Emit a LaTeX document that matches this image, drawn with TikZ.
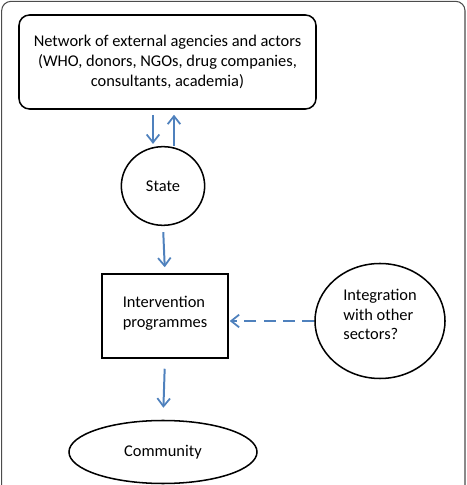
\documentclass[tikz,border=0pt]{standalone}
\usepackage{fontspec}
\setmainfont{Carlito}
\usepackage{xcolor}
\usetikzlibrary{arrows.meta,positioning,shapes.geometric}
\definecolor{flowblue}{RGB}{79,129,189}

\begin{document}
\begin{tikzpicture}[x=1cm, y=1cm,
  box/.style={draw, line width=1.3pt, align=center, font=\fontsize{14}{17}\selectfont,
              inner sep=2pt},
  roundbox/.style={box, rounded corners=9pt},
  oval/.style={box, ellipse, inner sep=0pt},
  arr/.style={-{Straight Barb[length=2.4mm, width=3.8mm, line width=1.5pt]}, line width=1.7pt, flowblue},
  darr/.style={arr, dash pattern=on 3.6mm off 2.2mm}
]
\clip (0,0) rectangle (14.01,14.55);
\draw[black!70, line width=0.9pt, rounded corners=8pt] (0.05,-1) |- (13.95,14.51) -- (13.95,-1);
\node[roundbox, minimum width=8.91cm, minimum height=2.82cm] (net) at (5.025,12.69)
  {Network of external agencies and actors\\(WHO, donors, NGOs, drug companies,\\consultants, academia)};
\node[oval, minimum width=2.5cm, minimum height=2.36cm] (st) at (4.89,8.97) {State};
\node[box, align=left, minimum width=3.78cm, minimum height=2.52cm] (prog) at (4.95,5.07)
  {Intervention\\programmes\\[-0.35cm]};
\node[oval, align=left, minimum width=3.9cm, minimum height=3.45cm] (integ) at (11.4,4.92)
  {Integration\\with other\\sectors?\\[-0.2cm]};
\node[oval, minimum width=5.64cm, minimum height=1.89cm] (comm) at (4.89,0.99) {Community};
\draw[arr, shorten <=0.15cm, shorten >=0.06cm] ([xshift=-0.3cm]st.north |- net.south) -- ([xshift=-0.3cm]st.north);
\draw[arr, shorten >=0.15cm] ([xshift=0.33cm]st.north) -- ([xshift=0.33cm]st.north |- net.south);
\draw[arr, shorten <=0.18cm, shorten >=0.18cm] (st.south) -- (prog.north);
\draw[darr, shorten >=0.03cm] (integ.west) -- (integ.west -| prog.east);
\draw[arr, shorten <=0.3cm, shorten >=0.36cm] (prog.south) -- (comm.north);
\end{tikzpicture}
\end{document}
